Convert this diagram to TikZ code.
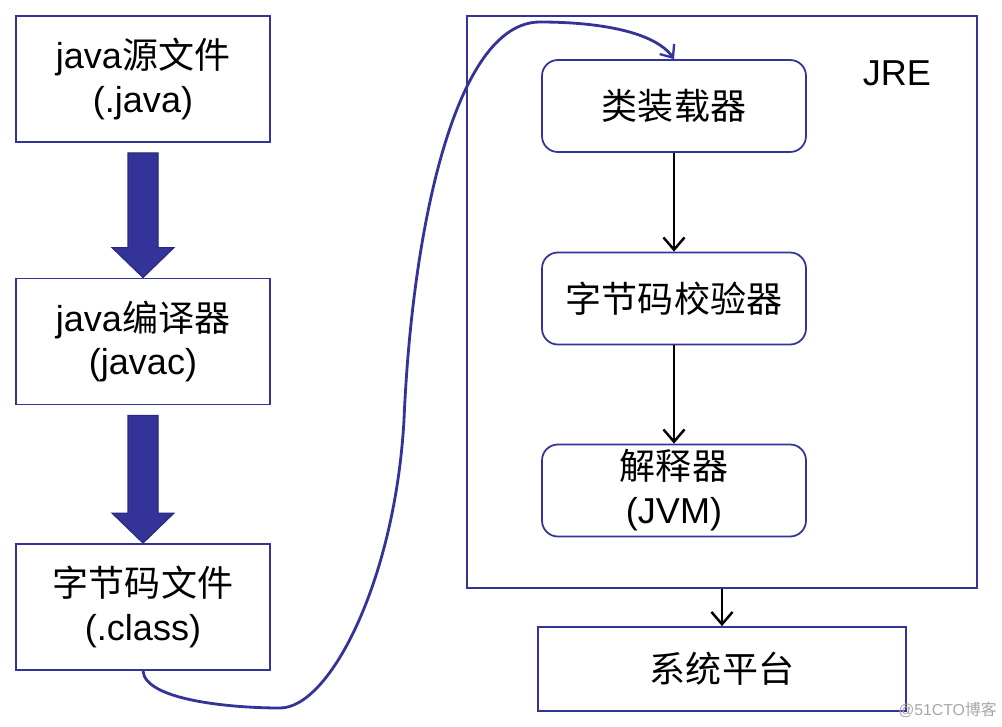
\documentclass[tikz,border=0pt]{standalone}
\usepackage{fontspec}
\setmainfont{Liberation Sans}
\newfontfamily\cjk{Noto Sans CJK SC}
\usepackage{tikz}
\usetikzlibrary{arrows.meta,calc}

\definecolor{jblue}{RGB}{51,51,153}
\tikzset{
  txt/.style={font=\fontsize{20.5}{25}\selectfont, align=center, inner sep=0pt},
  filebox/.style={txt, draw=jblue, line width=1pt, minimum width=5.08cm, minimum height=2.52cm},
  jrebox/.style={txt, draw=jblue, line width=1pt, rounded corners=9pt, minimum width=5.28cm, minimum height=1.84cm},
  flow/.style={-{Straight Barb[length=7pt,width=12pt,line width=1.4pt]}, line width=1.4pt, black},
  fatarrow/.style={fill=jblue, draw=jblue!80!black, line width=0.6pt},
  curve/.style={draw=jblue, line width=1.6pt, -{Straight Barb[length=6pt,width=10pt,line width=1.3pt]}}
}

\begin{document}
\begin{tikzpicture}[x=0.02cm, y=-0.02cm]
  \useasboundingbox (0,0) rectangle (1002,727);
  % left column: source to byte code
  \node[filebox] (src) at (143,79) {java{\cjk 源文件}\\(.java)};
  \node[filebox] (compiler) at (143,341.5) {java{\cjk 编译器}\\(javac)};
  \node[filebox] (bytecode) at (143,607) {{\cjk 字节码文件}\\(.class)};
  \foreach \a/\b in {src/compiler, compiler/bytecode}
    \filldraw[fatarrow] ($(\a.south)+(-15,10)$) -- ($(\a.south)+(15,10)$) -- ($(\b.north)+(15,-30)$)
      -- ($(\b.north)+(31,-30)$) -- (\b.north) -- ($(\b.north)+(-31,-30)$) -- ($(\b.north)+(-15,-30)$) -- cycle;
  % JRE
  \node[draw=jblue, line width=1pt, minimum width=10.2cm, minimum height=11.44cm, inner sep=0pt] (jre) at (722,302) {};
  \node[txt] (jrelabel) at (897,73) {JRE};
  \node[jrebox] (loader) at (674,106) {{\cjk 类装载器}};
  \node[jrebox] (verifier) at (674,298.5) {{\cjk 字节码校验器}};
  \node[jrebox] (interp) at (674,490.5) {{\cjk 解释器}\\(JVM)};
  \node[filebox, minimum width=7.36cm, minimum height=1.68cm] (platform) at (722,669) {{\cjk 系统平台}};
  \draw[flow] (loader) -- (verifier);
  \draw[flow] (verifier) -- (interp);
  \draw[flow] (jre) -- (platform);
  % class file handed to the loader
  \draw[curve] (bytecode.south) .. controls (145,700) and (230,708) .. (280,708)
    .. controls (330,708) and (395,580) .. (404,420)
    .. controls (412,230) and (455,22) .. (540,22)
    .. controls (600,22) and (655,32) .. (loader.north);
  \node[text=black!35, font=\fontsize{9}{11}\selectfont, anchor=east, inner sep=0pt] (mark) at (997,710) {@51CTO{\cjk 博客}};
\end{tikzpicture}
\end{document}
